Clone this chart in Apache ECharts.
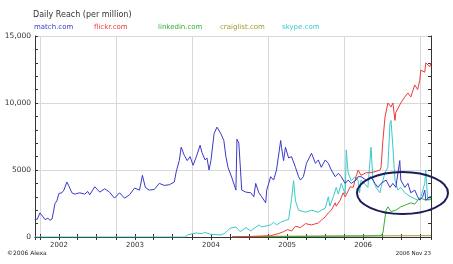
<!DOCTYPE html>
<html><head><meta charset="utf-8">
<script src="https://cdn.jsdelivr.net/npm/echarts@6/dist/echarts.min.js"></script>
<style>html,body{margin:0;padding:0;background:#fff}#c{width:453px;height:264px}</style>
</head><body><div id="c"></div>
<script>
const xMin = '2001-09-08', xMax = '2006-11-23';
const yTicks = [0, 5000, 10000, 15000];
const seriesNames = ['match.com', 'flickr.com', 'linkedin.com', 'craiglist.com', 'skype.com'];

const matchData = [
['2001-09-08',1400],['2001-09-18',1300],['2001-10-02',1800],['2001-10-17',1500],['2001-10-26',1300],
['2001-11-09',1400],['2001-11-19',1250],['2001-11-29',1350],['2001-12-13',2500],['2001-12-22',2700],
['2002-01-01',3250],['2002-01-15',3300],['2002-01-25',3500],['2002-02-08',4100],['2002-02-18',3800],
['2002-03-04',3300],['2002-03-18',3200],['2002-04-11',3300],['2002-05-05',3200],['2002-05-19',3400],
['2002-05-29',3150],['2002-06-22',3750],['2002-07-16',3350],['2002-08-09',3600],['2002-09-01',3350],
['2002-09-25',2900],['2002-10-19',3300],['2002-11-12',2900],['2002-12-06',3150],['2002-12-30',3650],
['2003-01-23',3500],['2003-02-06',4600],['2003-02-20',3700],['2003-03-11',3500],['2003-04-04',3550],
['2003-04-28',4000],['2003-05-22',3850],['2003-06-15',3900],['2003-07-09',4100],['2003-07-18',4850],
['2003-08-02',5700],['2003-08-11',6700],['2003-08-26',6100],['2003-09-09',5700],['2003-09-23',6000],
['2003-10-07',5350],['2003-10-22',5950],['2003-11-10',6850],['2003-11-19',6300],['2003-12-04',5750],
['2003-12-13',5900],['2003-12-23',5000],['2004-01-01',5700],['2004-01-16',7700],['2004-01-30',8200],
['2004-02-04',8100],['2004-02-18',7700],['2004-03-03',7200],['2004-03-13',6000],['2004-03-23',5200],
['2004-04-01',5300],['2004-04-11',4400],['2004-04-30',3500],['2004-05-05',7300],['2004-05-14',7000],
['2004-05-28',3500],['2004-06-17',3350],['2004-07-10',3300],['2004-07-25',3000],['2004-08-03',4000],
['2004-08-18',3300],['2004-09-01',3000],['2004-09-20',2550],['2004-09-25',3500],['2004-10-14',4500],
['2004-10-28',4250],['2004-11-11',5000],['2004-12-01',7200],['2004-12-05',6700],['2004-12-15',5700],
['2004-12-24',6700],['2005-01-08',5900],['2005-01-22',6000],['2005-02-10',5200],['2005-02-25',4500],
['2005-03-06',4250],['2005-03-20',4500],['2005-04-04',5500],['2005-04-28',6250],['2005-05-17',5500],
['2005-05-31',5750],['2005-06-14',5200],['2005-07-03',5750],['2005-07-18',5500],['2005-08-01',5000],
['2005-08-20',4500],['2005-09-04',4750],['2005-09-18',4500],['2005-10-07',4000],['2005-10-21',4250],
['2005-11-05',4000],['2005-11-28',4250],['2005-12-08',4500],['2005-12-22',4500],['2006-01-15',4250],
['2006-02-08',4500],['2006-02-27',4000],['2006-03-13',3700],['2006-03-28',4000],['2006-04-21',4250],
['2006-05-10',3700],['2006-05-24',4000],['2006-06-07',3700],['2006-06-26',5700],['2006-07-01',4250],
['2006-07-20',3700],['2006-08-04',4000],['2006-08-18',3300],['2006-09-06',3500],['2006-09-20',3000],
['2006-09-30',2750],['2006-10-14',3000],['2006-10-24',3500],['2006-10-29',2750],['2006-11-17',3000],
['2006-11-23',3000]
];

const flickrData = [
['2004-04-11',0],['2004-08-01',50],['2004-10-14',100],['2004-11-20',250],['2004-12-15',400],
['2005-01-03',550],['2005-01-22',450],['2005-02-10',800],['2005-03-06',700],['2005-03-30',1000],
['2005-04-28',900],['2005-05-31',1050],['2005-06-14',1250],['2005-07-03',1500],['2005-07-18',1800],
['2005-08-01',2000],['2005-08-20',2550],['2005-08-25',2300],['2005-09-13',2750],['2005-09-27',3300],
['2005-10-07',3000],['2005-10-31',3750],['2005-11-14',3700],['2005-11-28',4500],['2005-12-08',5000],
['2005-12-22',4600],['2006-01-15',4800],['2006-02-08',4800],['2006-03-04',4900],['2006-03-23',5000],
['2006-03-28',5200],['2006-04-06',7200],['2006-04-16',8950],['2006-04-30',10000],['2006-05-15',9700],
['2006-05-24',10000],['2006-06-03',8700],['2006-06-07',9300],['2006-07-01',10000],['2006-07-20',10450],
['2006-08-04',10750],['2006-08-18',10450],['2006-09-06',11350],['2006-09-20',11000],['2006-09-30',11700],
['2006-10-05',12450],['2006-10-24',12300],['2006-10-29',13000],['2006-11-17',12700],['2006-11-23',13000]
];

const linkedinData = [
['2004-04-11',0],['2005-06-01',50],['2006-01-15',80],['2006-03-28',100],['2006-04-06',300],
['2006-04-21',2000],['2006-04-30',2250],['2006-05-15',1900],['2006-06-07',2000],['2006-07-01',2250],
['2006-07-25',2400],['2006-08-18',2550],['2006-09-06',2450],['2006-09-20',2750],['2006-10-05',2900],
['2006-10-29',2750],['2006-11-23',2850]
];

const craigslistData = [
['2004-04-11',30],['2005-01-01',60],['2006-01-01',80],['2006-11-23',100]
];

const skypeData = [
['2001-09-08',0],['2003-09-01',0],['2003-09-09',150],['2003-10-22',300],['2003-11-19',250],
['2003-12-01',350],['2004-01-01',200],['2004-02-18',150],['2004-03-10',300],['2004-04-01',650],
['2004-04-30',750],['2004-05-20',400],['2004-06-17',700],['2004-07-10',450],['2004-08-18',900],
['2004-09-01',750],['2004-10-14',900],['2004-10-28',1100],['2004-11-11',900],['2004-12-01',1100],
['2004-12-24',1250],['2005-01-08',1300],['2005-01-22',2800],['2005-02-01',4200],['2005-02-10',2700],
['2005-02-25',2000],['2005-03-30',1850],['2005-04-28',2000],['2005-05-31',1850],['2005-06-14',2000],
['2005-07-03',2150],['2005-07-18',3000],['2005-07-25',2300],['2005-08-11',3000],['2005-08-25',3700],
['2005-09-04',3200],['2005-09-18',4000],['2005-10-07',3200],['2005-10-12',6500],['2005-10-21',4800],
['2005-11-05',4200],['2005-11-24',4500],['2005-12-08',4200],['2005-12-15',3300],['2005-12-22',4250],
['2006-01-24',3700],['2006-02-08',6700],['2006-02-17',4250],['2006-03-04',3700],['2006-03-23',3300],
['2006-03-28',3700],['2006-04-16',4800],['2006-04-30',5200],['2006-05-10',8500],['2006-05-15',8700],
['2006-05-24',6700],['2006-06-03',4250],['2006-06-17',3500],['2006-07-01',3700],['2006-07-20',3300],
['2006-08-18',3000],['2006-09-20',2750],['2006-10-05',3000],['2006-10-24',4000],['2006-10-29',5000],
['2006-11-07',2750],['2006-11-23',2800]
];

const colors = {'match.com':'#3a3ac8','flickr.com':'#ee3a3a','linkedin.com':'#33b033','craiglist.com':'#a09a30','skype.com':'#3cc8c8'};
const legendX = {'match.com':34,'flickr.com':94,'linkedin.com':158,'craiglist.com':220,'skype.com':282};

const FONT = 'DejaVu Sans';
const chart = echarts.init(document.getElementById('c'), null, {renderer:'canvas'});

function xLabel(v){ const d = new Date(v); return d.getMonth() === 0 ? String(d.getFullYear()) : ''; }
function yLabel(v){ if (yTicks.indexOf(v) < 0) return ''; return v >= 10000 ? v.toLocaleString('en-US') : String(v); }

const axisLineStyle = {color:'#333', width:1};
const mkLine = (name, data) => ({
  name, type:'line', data, showSymbol:false, symbol:'none', animation:false,
  lineStyle:{color:colors[name], width:1}, itemStyle:{color:colors[name]}, xAxisIndex:0, yAxisIndex:0
});

chart.setOption({
  backgroundColor:'#fff',
  animation:false,
  title:{text:'Daily Reach (per million)', left:33, top:11, padding:0,
    textStyle:{fontFamily:FONT, fontSize:8, fontWeight:'normal', color:'#333'}},
  legend: seriesNames.map(n => ({
    data:[{name:n, icon:'none'}], left:legendX[n]-5, top:24, padding:0, itemWidth:0, itemHeight:0,
    selectedMode:false, textStyle:{fontFamily:FONT, fontSize:7, color:colors[n]}
  })),
  grid:{left:35, right:22, top:36, bottom:27, containLabel:false},
  xAxis:[
    {type:'time', min:xMin, max:xMax, position:'bottom', splitNumber:21,
     axisLine:{lineStyle:axisLineStyle}, axisTick:{inside:true, length:3, lineStyle:axisLineStyle},
     axisLabel:{formatter:xLabel, fontFamily:FONT, fontSize:7, color:'#333', margin:5, hideOverlap:false},
     splitLine:{show:true, lineStyle:{color:['transparent','#d8d8d8','transparent','transparent']}}},
    {type:'time', min:xMin, max:xMax, position:'top', splitNumber:21,
     axisLine:{lineStyle:axisLineStyle}, axisTick:{inside:true, length:3, lineStyle:axisLineStyle},
     axisLabel:{show:false}, splitLine:{show:false}}
  ],
  yAxis:[
    {type:'value', min:0, max:15000, interval:1000, position:'left',
     axisLine:{show:true, lineStyle:axisLineStyle}, axisTick:{show:true, inside:true, length:3, lineStyle:axisLineStyle},
     axisLabel:{formatter:yLabel, fontFamily:FONT, fontSize:7.5, color:'#333', margin:4},
     splitLine:{show:true, lineStyle:{color:['#d8d8d8','transparent','transparent','transparent','transparent']}}},
    {type:'value', min:0, max:15000, interval:1000, position:'right',
     axisLine:{show:true, lineStyle:axisLineStyle}, axisTick:{show:true, inside:true, length:3, lineStyle:axisLineStyle},
     axisLabel:{show:false}, splitLine:{show:false}}
  ],
  series:[
    mkLine('skype.com', skypeData),
    mkLine('craiglist.com', craigslistData),
    mkLine('linkedin.com', linkedinData),
    mkLine('flickr.com', flickrData),
    mkLine('match.com', matchData)
  ],
  graphic:[
    {type:'ellipse', shape:{cx:402.5, cy:193, rx:45.5, ry:21}, z:100,
     style:{fill:null, stroke:'#1c1c5a', lineWidth:2}},
    {type:'text', left:7, top:250, z:100, style:{text:'©2006 Alexa', font:'6px "DejaVu Sans"', fill:'#222'}},
    {type:'text', right:22, top:251, z:100, style:{text:'2006 Nov 23', font:'5.5px "DejaVu Sans"', fill:'#222'}}
  ]
});
</script></body></html>
